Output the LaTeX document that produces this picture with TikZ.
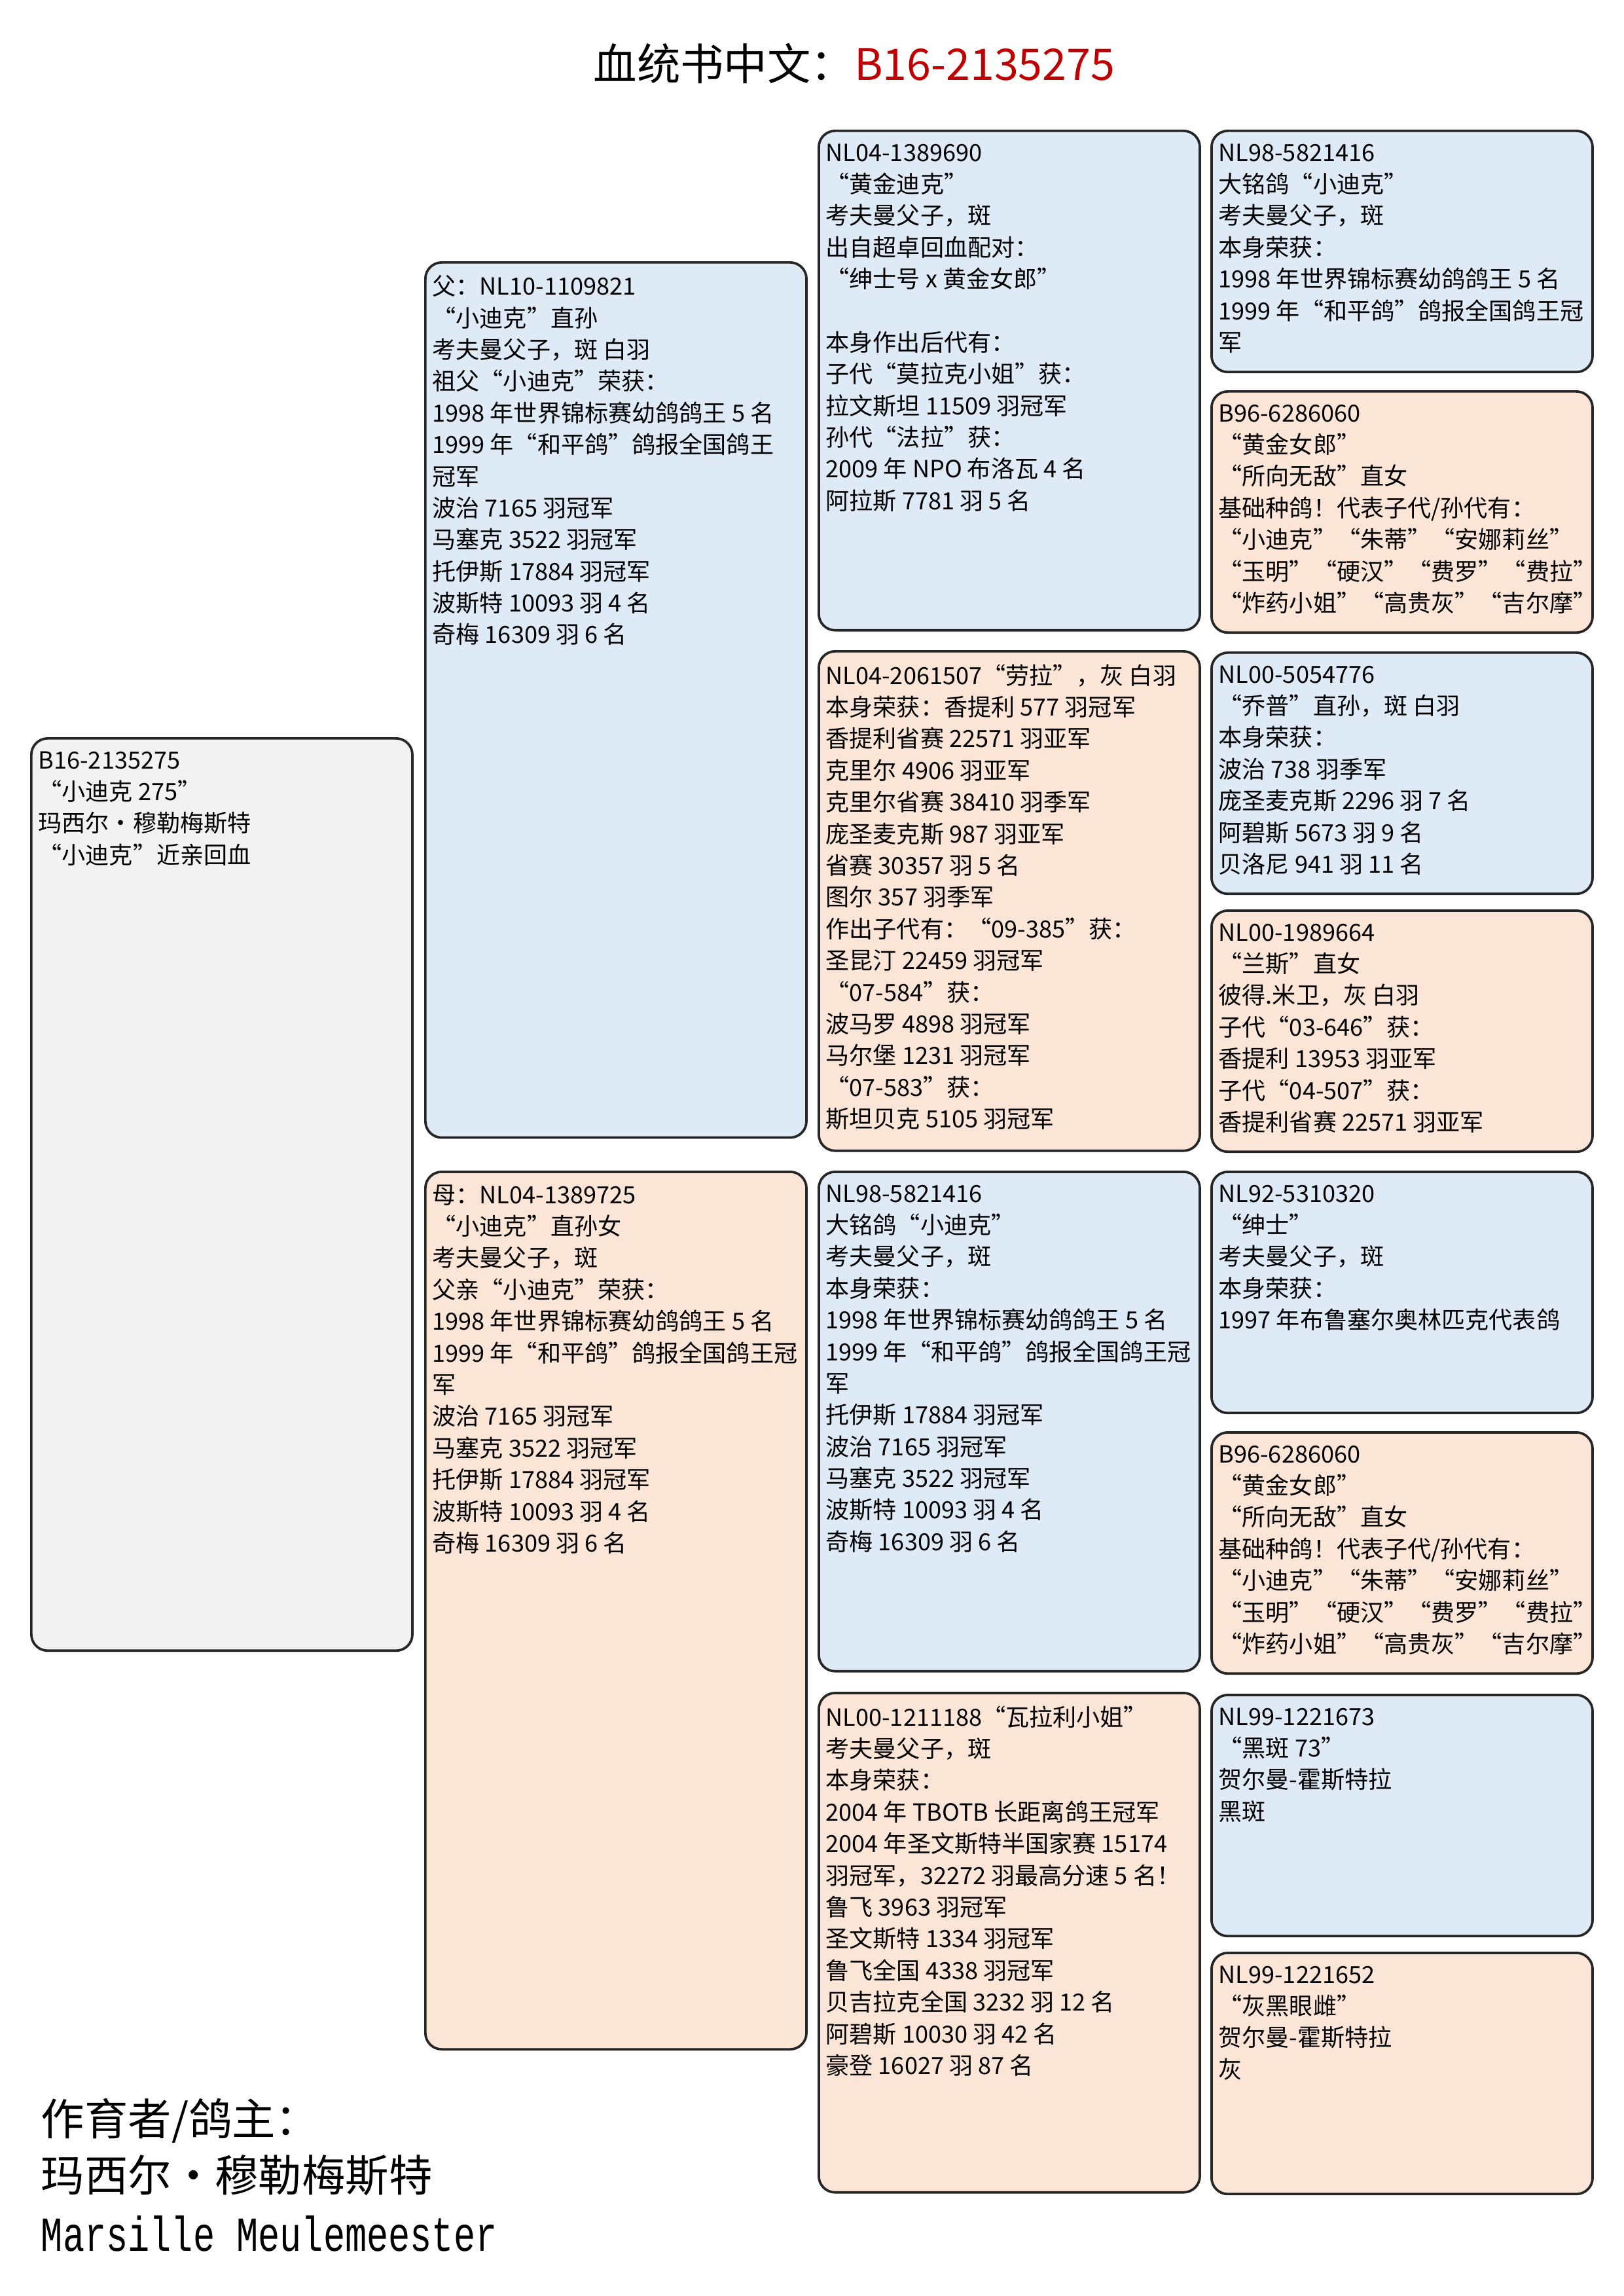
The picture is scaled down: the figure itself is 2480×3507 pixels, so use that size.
\documentclass[tikz,border=0pt]{standalone}
\usepackage{fontspec}
\setmainfont{Noto Sans CJK SC}
\newfontfamily\monofnt[FakeStretch=0.74]{Liberation Mono}
\usepackage{xcolor}
\usepackage{tikz}
\usetikzlibrary{positioning,calc}

\definecolor{blueF}{HTML}{DEEBF7}
\definecolor{peachF}{HTML}{FBE5D6}
\definecolor{greyF}{HTML}{F2F2F2}
\definecolor{titleRed}{HTML}{C00000}

\begin{document}
\begin{tikzpicture}[x=0.0084667cm, y=-0.0084667cm,
    box/.style={draw=black!85, line width=0.9pt, rounded corners=6pt,
                minimum width=4.93cm, inner sep=0pt, anchor=north west},
    txt/.style={anchor=north west, inner sep=0pt, align=left,
                font=\fontsize{8.7}{11.66}\selectfont, xshift=0.1cm, yshift=-5pt},
    big/.style={anchor=west, inner sep=0pt, font=\fontsize{16}{20}\selectfont}]

    % Page
    \useasboundingbox (0,0) rectangle (2480,3507);

    % Title
    \node[inner sep=0pt, font=\fontsize{16}{20}\selectfont] (title) at (1305,97)
        {血统书中文：\textcolor{titleRed}{B16-2135275}};

    % Boxes: name/x/y/height/colour
    \foreach \nm/\x/\y/\h/\c in {subj/46/1126/11.80/greyF,
            sire/648/399/11.32/blueF, dam/648/1788/11.35/peachF,
            ss/1249/198/6.46/blueF, sd/1249/993/6.46/peachF,
            ds/1249/1788/6.46/blueF, dd/1249/2584/6.46/peachF,
            sss/1849/198/3.12/blueF, ssd/1849/596/3.12/peachF,
            sds/1849/995/3.12/blueF, sdd/1849/1389/3.12/peachF,
            dss/1849/1788/3.12/blueF, dsd/1849/2186/3.12/peachF,
            dds/1849/2587/3.12/blueF, ddd/1849/2981/3.12/peachF} {
        \node[box, fill=\c, minimum height=\h cm] (\nm) at (\x,\y) {};
    }

    % Subject
    \node[txt] (subjT) at (subj.north west) {B16-2135275\\
        “小迪克 275”\\
        玛西尔·穆勒梅斯特\\
        “小迪克”近亲回血};

    % Sire and dam
    \node[txt] (sireT) at (sire.north west) {父：NL10-1109821\\
        “小迪克”直孙\\
        考夫曼父子，斑 白羽\\
        祖父“小迪克”荣获：\\
        1998 年世界锦标赛幼鸽鸽王 5 名\\
        1999 年“和平鸽”鸽报全国鸽王\\
        冠军\\
        波治 7165 羽冠军\\
        马塞克 3522 羽冠军\\
        托伊斯 17884 羽冠军\\
        波斯特 10093 羽 4 名\\
        奇梅 16309 羽 6 名};
    \node[txt] (damT) at (dam.north west) {母：NL04-1389725\\
        “小迪克”直孙女\\
        考夫曼父子，斑\\
        父亲“小迪克”荣获：\\
        1998 年世界锦标赛幼鸽鸽王 5 名\\
        1999 年“和平鸽”鸽报全国鸽王冠\\
        军\\
        波治 7165 羽冠军\\
        马塞克 3522 羽冠军\\
        托伊斯 17884 羽冠军\\
        波斯特 10093 羽 4 名\\
        奇梅 16309 羽 6 名};

    % Grandparents
    \node[txt] (ssT) at (ss.north west) {NL04-1389690\\
        “黄金迪克”\\
        考夫曼父子，斑\\
        出自超卓回血配对：\\
        “绅士号 x 黄金女郎”\\[11.66pt]
        本身作出后代有：\\
        子代“莫拉克小姐”获：\\
        拉文斯坦 11509 羽冠军\\
        孙代“法拉”获：\\
        2009 年 NPO 布洛瓦 4 名\\
        阿拉斯 7781 羽 5 名};
    \node[txt] (sdT) at (sd.north west) {NL04-2061507“劳拉”，灰 白羽\\
        本身荣获：香提利 577 羽冠军\\
        香提利省赛 22571 羽亚军\\
        克里尔 4906 羽亚军\\
        克里尔省赛 38410 羽季军\\
        庞圣麦克斯 987 羽亚军\\
        省赛 30357 羽 5 名\\
        图尔 357 羽季军\\
        作出子代有：“09-385”获：\\
        圣昆汀 22459 羽冠军\\
        “07-584”获：\\
        波马罗 4898 羽冠军\\
        马尔堡 1231 羽冠军\\
        “07-583”获：\\
        斯坦贝克 5105 羽冠军};
    \node[txt] (dsT) at (ds.north west) {NL98-5821416\\
        大铭鸽“小迪克”\\
        考夫曼父子，斑\\
        本身荣获：\\
        1998 年世界锦标赛幼鸽鸽王 5 名\\
        1999 年“和平鸽”鸽报全国鸽王冠\\
        军\\
        托伊斯 17884 羽冠军\\
        波治 7165 羽冠军\\
        马塞克 3522 羽冠军\\
        波斯特 10093 羽 4 名\\
        奇梅 16309 羽 6 名};
    \node[txt] (ddT) at (dd.north west) {NL00-1211188“瓦拉利小姐”\\
        考夫曼父子，斑\\
        本身荣获：\\
        2004 年 TBOTB 长距离鸽王冠军\\
        2004 年圣文斯特半国家赛 15174\\
        羽冠军，32272 羽最高分速 5 名！\\
        鲁飞 3963 羽冠军\\
        圣文斯特 1334 羽冠军\\
        鲁飞全国 4338 羽冠军\\
        贝吉拉克全国 3232 羽 12 名\\
        阿碧斯 10030 羽 42 名\\
        豪登 16027 羽 87 名};

    % Great-grandparents
    \node[txt] (sssT) at (sss.north west) {NL98-5821416\\
        大铭鸽“小迪克”\\
        考夫曼父子，斑\\
        本身荣获：\\
        1998 年世界锦标赛幼鸽鸽王 5 名\\
        1999 年“和平鸽”鸽报全国鸽王冠\\
        军};
    \node[txt] (ssdT) at (ssd.north west) {B96-6286060\\
        “黄金女郎”\\
        “所向无敌”直女\\
        基础种鸽！代表子代/孙代有：\\
        “小迪克”“朱蒂”“安娜莉丝”\\
        “玉明”“硬汉”“费罗”“费拉”\\
        “炸药小姐”“高贵灰”“吉尔摩”};
    \node[txt] (sdsT) at (sds.north west) {NL00-5054776\\
        “乔普”直孙，斑 白羽\\
        本身荣获：\\
        波治 738 羽季军\\
        庞圣麦克斯 2296 羽 7 名\\
        阿碧斯 5673 羽 9 名\\
        贝洛尼 941 羽 11 名};
    \node[txt] (sddT) at (sdd.north west) {NL00-1989664\\
        “兰斯”直女\\
        彼得.米卫，灰 白羽\\
        子代“03-646”获：\\
        香提利 13953 羽亚军\\
        子代“04-507”获：\\
        香提利省赛 22571 羽亚军};
    \node[txt] (dssT) at (dss.north west) {NL92-5310320\\
        “绅士”\\
        考夫曼父子，斑\\
        本身荣获：\\
        1997 年布鲁塞尔奥林匹克代表鸽};
    \node[txt] (dsdT) at (dsd.north west) {B96-6286060\\
        “黄金女郎”\\
        “所向无敌”直女\\
        基础种鸽！代表子代/孙代有：\\
        “小迪克”“朱蒂”“安娜莉丝”\\
        “玉明”“硬汉”“费罗”“费拉”\\
        “炸药小姐”“高贵灰”“吉尔摩”};
    \node[txt] (ddsT) at (dds.north west) {NL99-1221673\\
        “黑斑 73”\\
        贺尔曼-霍斯特拉\\
        黑斑};
    \node[txt] (dddT) at (ddd.north west) {NL99-1221652\\
        “灰黑眼雌”\\
        贺尔曼-霍斯特拉\\
        灰};

    % Breeder
    \node[big] (brd1) at (62,3239) {作育者/鸽主：};
    \node[big] (brd2) at (62,3323) {玛西尔·穆勒梅斯特};
    \node[big, font=\monofnt\fontsize{18}{20}\selectfont] (brd3) at (62,3412) {Marsille Meulemeester};

\end{tikzpicture}
\end{document}
